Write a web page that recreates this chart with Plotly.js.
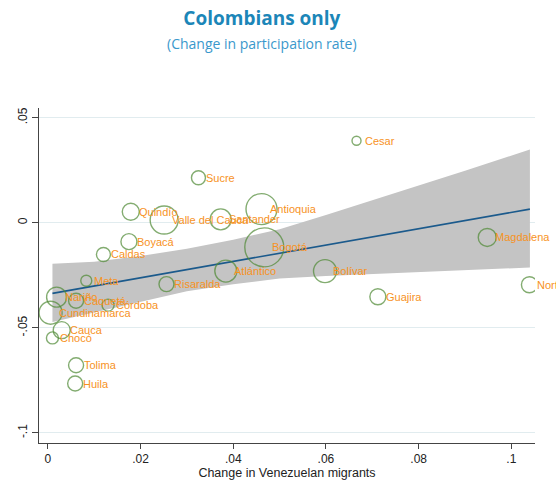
<!DOCTYPE html>
<html>
<head>
<meta charset="utf-8">
<script src="https://cdn.plot.ly/plotly-3.0.1.min.js"></script>
<style>html,body{margin:0;padding:0;background:#fff;overflow:hidden}#chart{width:556px;height:482px}</style>
</head>
<body>
<div id="chart"></div>
<script>
// Departments
const departments = ["Cesar","Sucre","Antioquia","Quindío","Valle del Cauca","Santander","Bogotá","Magdalena","Boyacá","Caldas","Atlántico","Bolívar","Meta","Risaralda","Norte de Santander","Guajira","Nariño","Caquetá","Córdoba","Cundinamarca","Cauca","Chocó","Tolima","Huila"];
// Change in Venezuelan migrants
const migrantChange = [0.0666,0.0325,0.0461,0.0179,0.0251,0.0373,0.0467,0.0948,0.0175,0.0120,0.0384,0.0598,0.0083,0.0256,0.1039,0.0712,0.0019,0.0061,0.0130,0.0006,0.0030,0.0010,0.0061,0.0059];
// Change in participation rate (Colombians only)
const participationChange = [0.0390,0.0214,0.0065,0.0052,0.0013,0.0016,-0.0117,-0.0070,-0.0090,-0.0151,-0.0230,-0.0230,-0.0276,-0.0292,-0.0295,-0.0352,-0.0354,-0.0371,-0.0392,-0.0428,-0.0511,-0.0548,-0.0678,-0.0765];
// Population weight (marker diameter)
const popWeight = [9,14,31,17,28,21,39,18,16,14,22,23,11,15,16,16,20,15,12,23,17,12,15,15];

// Linear fit and 95% confidence band
const fitX = [0.001, 0.104];
const fitY = [-0.0336, 0.0065];
const ciX = [0.001,0.01,0.02,0.03,0.04,0.05,0.06,0.07,0.08,0.09,0.104];
const ciUpper = [-0.0195,-0.0185,-0.0158,-0.0124,-0.0081,-0.0031,0.0037,0.0106,0.0175,0.0247,0.0348];
const ciLower = [-0.0472,-0.0426,-0.0374,-0.0326,-0.0293,-0.0265,-0.0253,-0.0244,-0.0235,-0.0227,-0.0213];

const xTickVals = [0,0.02,0.04,0.06,0.08,0.1];
const xTickText = ["0",".02",".04",".06",".08",".1"];
const yTickVals = [0.05,0,-0.05,-0.1];
const yTickText = [".05","0","-.05","-.1"];

const FONT = "Liberation Sans, Arial, sans-serif";

const traces = [
  {x: ciX, y: ciLower, mode: "lines", line: {width: 0, color: "rgba(0,0,0,0)"}, showlegend: false, hoverinfo: "skip"},
  {x: ciX, y: ciUpper, mode: "lines", fill: "tonexty", fillcolor: "#c4c4c4", line: {width: 0, color: "rgba(0,0,0,0)"}, showlegend: false, hoverinfo: "skip"},
  {x: fitX, y: fitY, mode: "lines", line: {color: "#1b5a8c", width: 1.6}, showlegend: false},
  {x: migrantChange, y: participationChange, text: departments, mode: "markers", showlegend: false,
   marker: {size: popWeight, sizemode: "diameter", color: "rgba(0,0,0,0)", line: {color: "#4f8a35", width: 1.4}}}
];

const annotations = departments.map((d, i) => ({
  x: migrantChange[i], y: participationChange[i], xref: "x", yref: "y",
  text: d, showarrow: false, xanchor: "left", yanchor: "middle", xshift: 6,
  font: {family: FONT, size: 11, color: "#f7921e"}
}));
annotations.push({
  text: "(Change in participation rate)", xref: "paper", yref: "paper",
  x: 0.4496, y: 1.194, xanchor: "center", yanchor: "middle", showarrow: false,
  font: {family: "Open Sans, sans-serif", size: 14, color: "#3a98cc"}
});

const layout = {
  width: 556, height: 482,
  margin: {l: 39, r: 21, t: 108, b: 39},
  paper_bgcolor: "#ffffff", plot_bgcolor: "#ffffff",
  title: {text: "<b>Colombians only</b>", x: 0.471, xref: "container", xanchor: "center",
          y: 1 - 18/482, yref: "container", yanchor: "middle",
          font: {family: "Open Sans, sans-serif", size: 19, color: "#1c86b8"}},
  xaxis: {range: [-0.0019, 0.1051], tickvals: xTickVals, ticktext: xTickText,
          showgrid: false, zeroline: false, showline: true, linecolor: "#444", linewidth: 1,
          ticks: "outside", ticklen: 5, tickcolor: "#444",
          tickfont: {family: FONT, size: 12, color: "#222"},
          title: {text: "Change in Venezuelan migrants", standoff: 2, font: {family: FONT, size: 12.5, color: "#222"}}},
  yaxis: {range: [-0.1048, 0.0546], tickvals: yTickVals, ticktext: yTickText, tickangle: -90,
          showgrid: true, gridcolor: "#e1ecef", gridwidth: 1, zeroline: false,
          showline: true, linecolor: "#444", linewidth: 1,
          ticks: "outside", ticklen: 6, tickcolor: "#444",
          tickfont: {family: FONT, size: 12, color: "#222"}},
  annotations: annotations,
  showlegend: false
};

Plotly.newPlot("chart", traces, layout, {displayModeBar: false, staticPlot: true});
</script>
</body>
</html>
